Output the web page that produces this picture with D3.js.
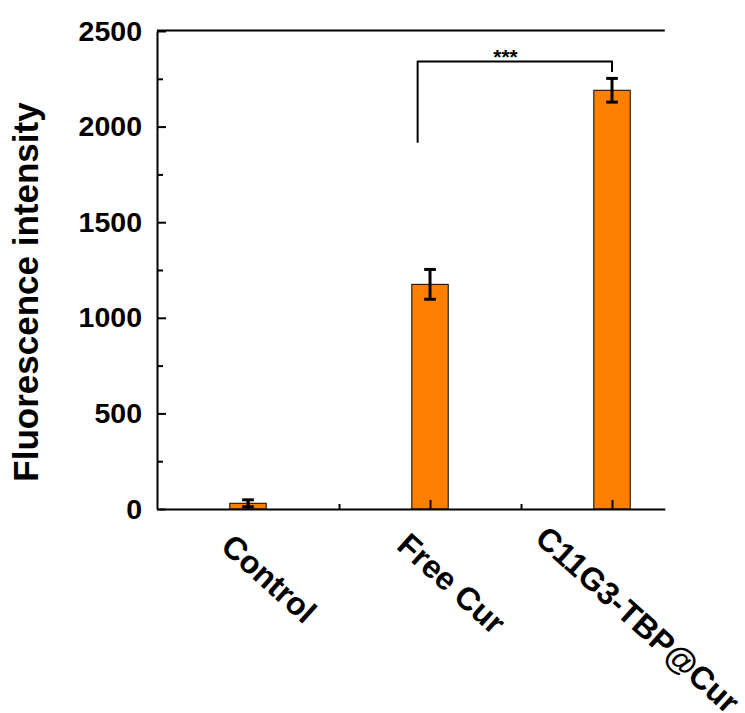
<!DOCTYPE html>
<html><head><meta charset="utf-8">
<script src="https://cdn.jsdelivr.net/npm/d3@7"></script>
<style>body{margin:0;background:#fff} svg{display:block}</style>
</head><body>
<svg id="c" width="745" height="713"></svg>
<script>
const categories = ["Control", "Free Cur", "C11G3-TBP@Cur"];
const values = [30, 1175, 2190];
const errors = [18, 78, 62];
const yTicks = [0, 500, 1000, 1500, 2000, 2500];
const yMinorTicks = [250, 750, 1250, 1750, 2250];
const xMinorTicks = [1.5, 2.5];
const sigPair = ["Free Cur", "C11G3-TBP@Cur"];
const sigHeights = [1915, 2340, 2285];
const sigLabel = "***";
const yTitle = "Fluorescence intensity";

const FONT = "'Liberation Sans', Arial, Helvetica, sans-serif";
const svg = d3.select("#c");
const x = d3.scaleLinear().domain([0.5, 3.29]).range([157, 664.8]);
const y = d3.scaleLinear().domain([0, 2500]).range([509, 31]);
const pos = c => categories.indexOf(c) + 1;

// top frame line
svg.append("line").attr("x1", x.range()[0]).attr("x2", x.range()[1])
  .attr("y1", y(2500) - 0.5).attr("y2", y(2500) - 0.5)
  .attr("stroke", "#000").attr("stroke-width", 2);

// bars
svg.append("g").selectAll("rect").data(categories).join("rect")
  .attr("x", (d, i) => x(i + 1 - 0.1))
  .attr("width", (d, i) => x(i + 1 + 0.1) - x(i + 1 - 0.1))
  .attr("y", (d, i) => y(values[i]))
  .attr("height", (d, i) => y(0) - y(values[i]))
  .attr("fill", "#FF8000").attr("stroke", "#000").attr("stroke-width", 1);

// error bars
const eb = svg.append("g").attr("stroke", "#000").attr("stroke-width", 3);
categories.forEach((c, i) => {
  const cx = x(i + 1), hw = x(i + 1 + 0.032) - cx;
  eb.append("line").attr("x1", cx).attr("x2", cx)
    .attr("y1", y(values[i] + errors[i])).attr("y2", y(values[i] - errors[i]));
  [values[i] + errors[i], values[i] - errors[i]].forEach(v => {
    eb.append("line").attr("x1", cx - hw).attr("x2", cx + hw)
      .attr("y1", y(v)).attr("y2", y(v));
  });
});

// y axis
const yAxis = svg.append("g").attr("transform", `translate(${x(0.5)},0)`)
  .call(d3.axisLeft(y).tickValues(yTicks).tickFormat(d3.format("d"))
    .tickSize(-9).tickSizeOuter(0).tickPadding(15));
yAxis.select(".domain").attr("stroke-width", 2);
yAxis.selectAll(".tick line").attr("stroke-width", 2);
yAxis.selectAll("text").attr("font-family", FONT).attr("font-weight", "bold")
  .attr("font-size", 28.5).attr("fill", "#000");
const yMinor = svg.append("g").attr("transform", `translate(${x(0.5)},0)`)
  .call(d3.axisLeft(y).tickValues(yMinorTicks).tickSize(-6).tickFormat(""));
yMinor.select(".domain").remove();
yMinor.selectAll(".tick line").attr("stroke-width", 2);

// x axis
const xAxis = svg.append("g").attr("transform", `translate(0,${y(0)})`)
  .call(d3.axisBottom(x).tickValues([1, 2, 3]).tickSize(-9).tickSizeOuter(0).tickFormat(""));
xAxis.select(".domain").attr("stroke-width", 2);
xAxis.selectAll(".tick line").attr("stroke-width", 2);
const xMinor = svg.append("g").attr("transform", `translate(0,${y(0)})`)
  .call(d3.axisBottom(x).tickValues(xMinorTicks).tickSize(-5).tickFormat(""));
xMinor.select(".domain").remove();
xMinor.selectAll(".tick line").attr("stroke-width", 2);

// x labels rotated
categories.forEach((c, i) => {
  const t = svg.append("text").text(c)
    .attr("font-family", FONT).attr("font-weight", "bold").attr("font-size", 32)
    .attr("fill", "#000").attr("text-anchor", "start");
  const L = t.node().getComputedTextLength();
  const px = x(i + 1) + 10 - 0.34 * L;
  const py = y(0) + 46 - 0.055 * L;
  t.attr("transform", `translate(${px},${py}) rotate(42)`);
});

// y title
svg.append("text").text(yTitle)
  .attr("font-family", FONT).attr("font-weight", "bold").attr("font-size", 35)
  .attr("fill", "#000").attr("text-anchor", "middle")
  .attr("transform", `translate(38,${(y(0) + y(2500)) / 2 + 22}) rotate(-90)`);

// significance bracket
const xa = x(pos(sigPair[0]) - 0.068), xb = x(pos(sigPair[1]));
svg.append("path")
  .attr("d", `M${xa},${y(sigHeights[0])}V${y(sigHeights[1])}H${xb}V${y(sigHeights[2])}`)
  .attr("fill", "none").attr("stroke", "#000").attr("stroke-width", 2)
  .attr("stroke-linejoin", "round");
svg.append("text").text(sigLabel)
  .attr("x", x((pos(sigPair[0]) + pos(sigPair[1])) / 2 - 0.085))
  .attr("y", y(sigHeights[1]) + 2)
  .attr("text-anchor", "middle").attr("font-family", FONT).attr("font-weight", "bold")
  .attr("font-size", 21).attr("fill", "#000");
</script>
</body></html>
